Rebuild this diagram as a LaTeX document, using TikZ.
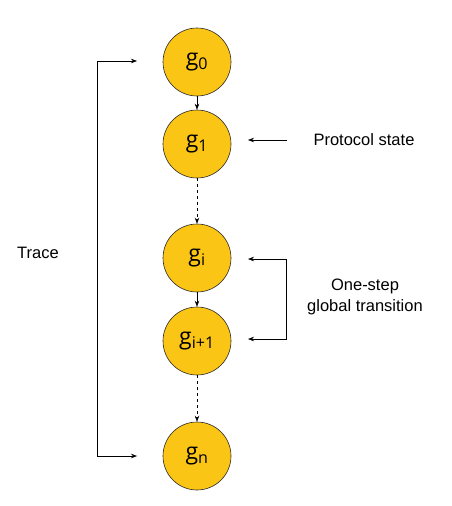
\documentclass[tikz,border=0pt]{standalone}
\usepackage{fontspec}
\setmainfont{Liberation Sans}
\newfontfamily\glabfont{Open Sans}
\usetikzlibrary{arrows.meta}
\definecolor{gold}{RGB}{251,197,22}
\begin{document}
\begin{tikzpicture}[x=1pt,y=-1pt,
  state/.style={circle,draw=black!85,line width=0.6pt,fill=gold,minimum size=68pt,inner sep=0pt,font=\glabfont\fontsize{23}{25}\selectfont},
  conn/.style={-{Stealth[length=6pt,width=4.5pt]},line width=0.6pt},
  lab/.style={font=\fontsize{16.5}{21}\selectfont,align=center}]
\useasboundingbox (0,0) rectangle (452,506);
\node[state] (g0) at (197,62) {g\textsubscript{0}};
\node[state] (g1) at (197,144) {g\textsubscript{1}};
\node[state] (gi) at (197,258) {g\textsubscript{i}};
\node[state] (gi1) at (197,341) {g\textsubscript{i+1}};
\node[state] (gn) at (197,456) {g\textsubscript{n}};
\draw[conn] (g0) -- (g1);
\draw[conn,dashed] (g1) -- (gi);
\draw[conn] (gi) -- (gi1);
\draw[conn,dashed] (gi1) -- (gn);
% Trace bracket
\coordinate (tt) at (137,61);
\coordinate (tb) at (137,456);
\draw[conn] (97,258) |- (tt);
\draw[conn] (97,258) |- (tb);
\node[lab] (trace) at (38,253) {Trace};
% Protocol state
\node[lab] (ps) at (364,140) {Protocol state};
\coordinate (psa) at (248,140);
\draw[conn] (287,140) -- (psa);
% One-step
\coordinate (oa) at (248,259);
\coordinate (ob) at (248,339);
\draw[conn] (286,299) |- (oa);
\draw[conn] (286,299) |- (ob);
\node[lab] (os) at (365,297) {One-step\\global transition};
\end{tikzpicture}
\end{document}
